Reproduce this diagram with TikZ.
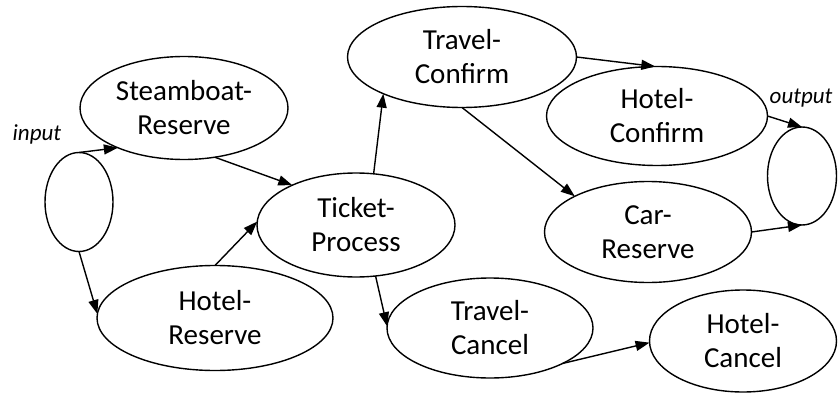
\documentclass[tikz,border=0pt]{standalone}
\usepackage{fontspec}
\setmainfont{Carlito}
\usepackage{tikz}
\usetikzlibrary{arrows.meta,shapes.geometric,positioning}
\tikzset{
   workflow/.style={%
      x=1pt, y=-1pt,
      line width=1.4pt,
      every edge/.style={draw,-{Triangle[length=14pt,width=10pt]}},
      },
   svc/.style 2 args={%width and height of the ellipse
      draw, ellipse, inner sep=0pt, outer sep=0pt,
      minimum width=#1, minimum height=#2,
      align=center, font=\fontsize{29}{34}\selectfont},
   port/.style={font=\fontsize{23}{26}\selectfont\itshape, inner sep=0pt, anchor=base west}
}

\begin{document}
\begin{tikzpicture}[workflow]
  \useasboundingbox (0,0) rectangle (840,393);
  \node[svc={68pt}{99pt}] (In) at (79,202) {};
  \node[svc={208pt}{103pt}] (SR) at (184,108) {Steamboat-\\Reserve};
  \node[svc={236pt}{105pt}] (HR) at (215,318) {Hotel-\\Reserve};
  \node[svc={198pt}{104pt}] (TP) at (356,225) {Ticket-\\Process};
  \node[svc={229pt}{101pt}] (TC) at (462,57) {Travel-\\Confirm};
  \node[svc={221pt}{99pt}] (HC) at (657,116) {Hotel-\\Confirm};
  \node[svc={207pt}{101pt}] (CR) at (648,232) {Car-\\Reserve};
  \node[svc={206pt}{100pt}] (TX) at (490,328) {Travel-\\Cancel};
  \node[svc={187pt}{102pt}] (HX) at (743,341) {Hotel-\\Cancel};
  \node[svc={69pt}{98pt}] (Out) at (802,176) {};
  \node[port] (inlab) at (12,140) {input};
  \node[port] (outlab) at (769,103) {output};
  \path (In.north) edge (SR.211)
        (In.south) edge (HR.178)
        (SR.302) edge (TP.148)
        (HR.north) edge (TP.178)
        (TP.71) edge (TC.205)
        (TP.291) edge (TX.179)
        (TC.south) edge (CR.154)
        (TC.east) edge (HC.92)
        (HC.east) edge (Out.north)
        (CR.east) edge (Out.south)
        (TX.334) edge (HX.181);
\end{tikzpicture}
\end{document}
